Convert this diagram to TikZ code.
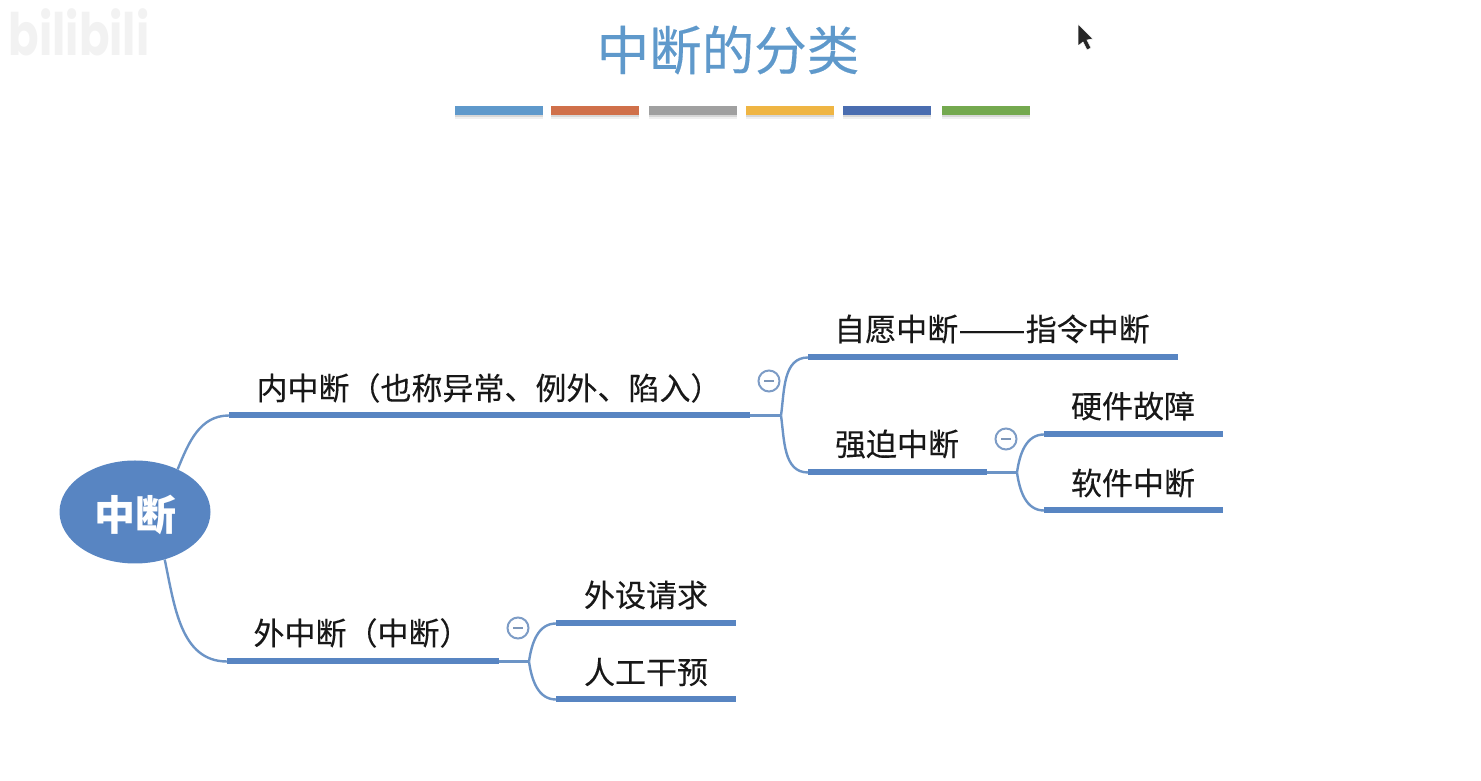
\documentclass[tikz,border=0pt]{standalone}
\usepackage{fontspec}
\usepackage{tikz}
\usetikzlibrary{shapes.geometric,shadows}
\setmainfont{Noto Sans CJK SC}
\newfontfamily\markfont{Poppins}
\definecolor{mapblue}{HTML}{5885C2}
\definecolor{linkblue}{HTML}{6C94C6}
\definecolor{titleblue}{HTML}{5F99CB}
\definecolor{foldblue}{HTML}{7D9CC6}
\definecolor{inkblack}{HTML}{181818}
\definecolor{barA}{HTML}{5F99CB}
\definecolor{barB}{HTML}{D0704A}
\definecolor{barC}{HTML}{A0A0A0}
\definecolor{barD}{HTML}{EFB543}
\definecolor{barE}{HTML}{4A6DB0}
\definecolor{barF}{HTML}{74A94F}
\tikzset{
    topic/.style={draw=none,fill=mapblue,anchor=west,inner sep=0pt,minimum height=6pt},
    colorbar/.style={draw=none,inner sep=0pt,minimum width=88pt,minimum height=9pt,
        drop shadow={shadow xshift=0pt,shadow yshift=-4.5pt,opacity=0.12},
        drop shadow={shadow xshift=0pt,shadow yshift=-2.5pt,opacity=0.22}},
    caption/.style={text=inkblack,inner sep=0pt,font=\fontsize{31}{36}\selectfont\addfontfeatures{FakeBold=0.2}},
    link/.style={linkblue,line width=2.4pt},
    fold/.style={circle,draw=foldblue,line width=2pt,fill=white,minimum size=21pt,inner sep=0pt}
}
\newcommand{\foldmark}[2]{\node[fold] (#1) at #2 {};
    \draw[foldblue!80!gray,line width=1.6pt] ([xshift=-5pt]#1.center) -- ([xshift=5pt]#1.center);}

\begin{document}
\begin{tikzpicture}[x=1pt,y=1pt]
    \useasboundingbox (0,0) rectangle (1481,781);
    % watermark and pointer
    \node[text=black!5,inner sep=0pt,yscale=1.3,font=\markfont\bfseries\fontsize{45}{50}\selectfont] (logo) at (79,749) {bilibili};
    \fill[black!85,draw=white,line width=0.6pt] (1078,757) -- (1078,735) -- (1083,739) -- (1087,731) -- (1091,733) -- (1087,741) -- (1093,742) -- cycle;
    % title
    \node[text=titleblue,inner sep=0pt,font=\fontsize{52.5}{60}\selectfont\addfontfeatures{FakeBold=0.3}] (title) at (728,731) {中断的分类};
    \foreach \barx/\barcol/\barname in {499/barA/one,594.5/barB/two,692.5/barC/three,789.5/barD/four,886.5/barE/five,986/barF/six}
        \node[colorbar,fill=\barcol] (\barname) at (\barx,670.5) {};
    % root
    \node[ellipse,fill=mapblue,minimum width=151pt,minimum height=103pt,inner sep=0pt] (root) at (135,269) {};
    \node[text=white,inner sep=0pt,font=\bfseries\fontsize{41}{46}\selectfont] (roottext) at (135,266) {中断};
    % bars
    \node[topic,minimum width=521pt] (nei) at (229,365.5) {};
    \node[topic,minimum width=272pt] (wai) at (227,119.5) {};
    \node[topic,minimum width=370pt] (ziyuan) at (808,423.5) {};
    \node[topic,minimum width=179pt] (qiangpo) at (808,308.5) {};
    \node[topic,minimum width=179pt] (yingjian) at (1044,346.5) {};
    \node[topic,minimum width=179pt] (ruanjian) at (1044,270.5) {};
    \node[topic,minimum width=180pt] (waishe) at (556,157.5) {};
    \node[topic,minimum width=180pt] (rengong) at (556,81.5) {};
    % texts
    \node[caption] (neitext) at (489,393) {内中断（也称异常、例外、陷入）};
    \node[caption] (waitext) at (362,148) {外中断（中断）};
    \node[caption] (ziyuantext) at (992,452) {自愿中断\scalebox{1.3}[1]{——}指令中断};
    \node[caption] (qiangpotext) at (897,337) {强迫中断};
    \node[caption] (yingjiantext) at (1133,375) {硬件故障};
    \node[caption] (ruanjiantext) at (1133,298) {软件中断};
    \node[caption] (waishetext) at (646,186) {外设请求};
    \node[caption] (rengongtext) at (646,109) {人工干预};
    % connectors
    \coordinate (neifork) at (781,365.5);
    \coordinate (qiangfork) at (1017,308.5);
    \coordinate (waifork) at (529,119.5);
    \draw[link] (root.45) to[out=68,in=180] (nei.west);
    \draw[link] (root.-58) to[out=-78,in=180] (wai.west);
    \draw[link] (nei.east) -- (neifork);
    \draw[link] (neifork) to[out=82,in=180] (ziyuan.west);
    \draw[link] (neifork) to[out=-82,in=180] (qiangpo.west);
    \draw[link] (qiangpo.east) -- (qiangfork);
    \draw[link] (qiangfork) to[out=82,in=180] (yingjian.west);
    \draw[link] (qiangfork) to[out=-82,in=180] (ruanjian.west);
    \draw[link] (wai.east) -- (waifork);
    \draw[link] (waifork) to[out=82,in=180] (waishe.west);
    \draw[link] (waifork) to[out=-82,in=180] (rengong.west);
    % fold marks
    \foldmark{foldnei}{(769,400)}
    \foldmark{foldqiang}{(1006,342)}
    \foldmark{foldwai}{(518,153)}
\end{tikzpicture}
\end{document}
